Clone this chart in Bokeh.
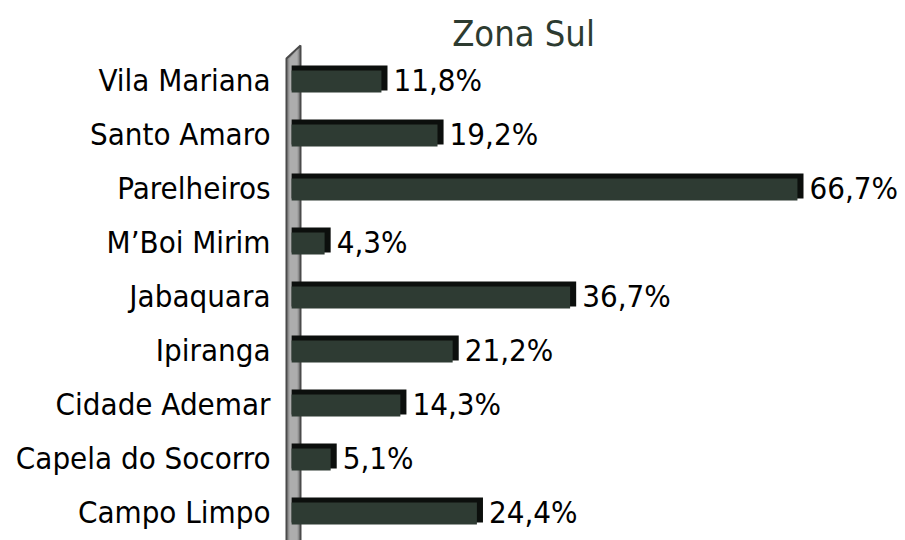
from bokeh.plotting import figure
from bokeh.models import ColumnDataSource, FixedTicker
from bokeh.core.properties import value
from bokeh.embed import file_html
from bokeh.resources import INLINE

categories = ["Campo Limpo", "Capela do Socorro", "Cidade Ademar", "Ipiranga",
              "Jabaquara", "M\u2019Boi Mirim", "Parelheiros", "Santo Amaro", "Vila Mariana"]
values = [24.4, 5.1, 14.3, 21.2, 36.7, 4.3, 66.7, 19.2, 11.8]
labels = ["24,4%", "5,1%", "14,3%", "21,2%", "36,7%", "4,3%", "66,7%", "19,2%", "11,8%"]
title_text = "Zona Sul"

FONT = "DejaVu Sans Condensed"
idx = list(range(len(categories)))

p = figure(width=905, height=540, output_backend="svg", toolbar_location=None,
           x_range=(-2.32, 80.16), y_range=(-0.519, 9.481),
           min_border_left=280, min_border_right=0, min_border_top=0, min_border_bottom=0)
p.outline_line_color = None
p.grid.visible = False
p.xaxis.visible = False
p.background_fill_color = "white"

yaxis = p.yaxis[0]
yaxis.ticker = FixedTicker(ticks=idx)
yaxis.major_label_overrides = {i: c for i, c in zip(idx, categories)}
yaxis.major_tick_line_color = None
yaxis.minor_tick_line_color = None
yaxis.axis_line_color = None
yaxis.major_tick_out = 0
yaxis.major_label_standoff = 10
yaxis.major_label_text_font = FONT
yaxis.major_label_text_font_size = "31px"
yaxis.major_label_text_color = "black"

# wall (3D back wall)
p.patch([-1.53, 0.32, 0.32, -1.53], [8.407, 8.648, -0.7, -0.7],
        fill_color="#8f8f8f", line_color="#4a4a4a", line_width=2)
p.patch([-1.15, -0.05, -0.05, -1.15], [8.40, 8.58, -0.7, -0.7],
        fill_color="#adadad", line_color=None)

src = ColumnDataSource(dict(y=idx, v=values, lab=labels,
                            yt=[i + 0.046 for i in idx],
                            yf=[i - 0.018 for i in idx],
                            vf=[v - 0.8 for v in values]))
bar_left = -0.85
# dark top / end cap
p.hbar(y="yt", left=bar_left, right="v", height=0.463, source=src,
       fill_color="#0c0f0d", line_color=None)
# front face
p.hbar(y="yf", left=bar_left, right="vf", height=0.407, source=src,
       fill_color="#2e3b33", line_color=None)

p.text(x="v", y="y", text="lab", source=src, x_offset=6,
       text_font=value(FONT), text_font_size="31px", text_color="black",
       text_baseline="middle", text_align="left")

p.text(x=[29.75], y=[8.87], text=[title_text], text_font=value(FONT),
       text_font_size="36px", text_color="#2d3b30",
       text_baseline="middle", text_align="center")

open("out.html", "w").write(file_html(p, INLINE))
